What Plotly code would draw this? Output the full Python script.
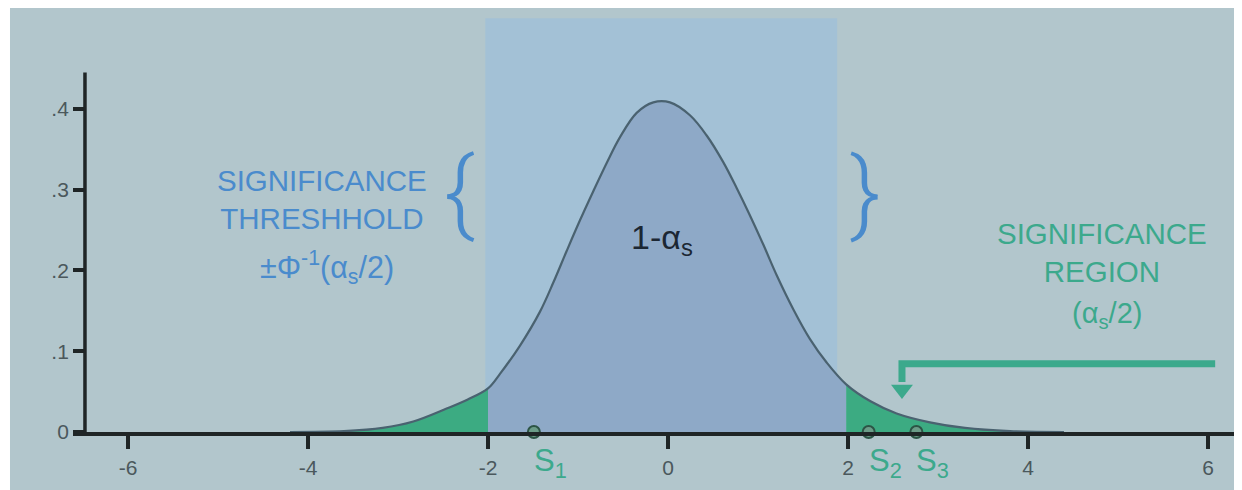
import plotly.graph_objects as go

# ---- data ----
CURVE_X = [-4.2, -3.6, -3.17, -2.83, -2.46, -2.23, -2.0, -1.867, -1.644, -1.422, -1.274, -1.126,
           -0.978, -0.830, -0.681, -0.533, -0.348, -0.163, 0.022, 0.244, 0.430, 0.614, 0.763,
           0.911, 1.059, 1.208, 1.392, 1.578, 1.763, 1.98, 2.25, 2.54, 2.91, 3.3, 3.8, 4.4]
CURVE_Y = [0.0, 0.001, 0.005, 0.013, 0.029, 0.040, 0.054, 0.072, 0.107, 0.149, 0.185, 0.224,
           0.262, 0.298, 0.333, 0.365, 0.395, 0.408, 0.408, 0.392, 0.367, 0.334, 0.302,
           0.268, 0.232, 0.194, 0.152, 0.115, 0.086, 0.059, 0.038, 0.023, 0.012, 0.005, 0.001, 0.0]
LEFT_CUT = -2.0
RIGHT_CUT = 1.98

S_X = [-1.49, 2.23, 2.76]
S_Y = [0.0, 0.0, 0.0]
S_NAMES = ["S<sub>1</sub>", "S<sub>2</sub>", "S<sub>3</sub>"]

X_TICKS = [-6, -4, -2, 0, 2, 4, 6]
X_TICK_TEXT = ["-6", "-4", "-2", "0", "2", "4", "6"]
Y_TICKS = [0, 0.1, 0.2, 0.3, 0.4]
Y_TICK_TEXT = ["0", ".1", ".2", ".3", ".4"]

BAND_X = [-2.03, 1.88]
BAND_TOP = 0.512

ARROW_X = [6.08, 2.6, 2.6]
ARROW_Y = [0.0845, 0.0845, 0.062]
ARROW_HEAD = (2.6, 0.0526)

# ---- styles ----
BG = "#b2c6cc"
BAND = "#a3c1d6"
UNDER = "#8ea9c7"
GREEN = "#3cab82"
CURVE = "#4a6270"
BLUE_TXT = "#4a8bcc"
TEAL = "#3ca98c"
AXIS = "#1f2526"
TICK_TXT = "#4b585c"
FONT = "Liberation Sans"

fig = go.Figure()

left = [(x, y) for x, y in zip(CURVE_X, CURVE_Y) if x <= LEFT_CUT]
mid = [(x, y) for x, y in zip(CURVE_X, CURVE_Y) if LEFT_CUT <= x <= RIGHT_CUT]
right = [(x, y) for x, y in zip(CURVE_X, CURVE_Y) if x >= RIGHT_CUT]

SMOOTH = 1.0
for seg, col in [(left, GREEN), (mid, UNDER), (right, GREEN)]:
    fig.add_trace(go.Scatter(
        x=[p[0] for p in seg], y=[p[1] for p in seg],
        mode="lines", line=dict(width=0, shape="spline", smoothing=SMOOTH),
        fill="tozeroy", fillcolor=col, hoverinfo="skip"))

fig.add_trace(go.Scatter(x=CURVE_X, y=CURVE_Y, mode="lines",
                         line=dict(color=CURVE, width=2.2, shape="spline", smoothing=SMOOTH),
                         hoverinfo="skip"))

# arrow
fig.add_trace(go.Scatter(x=ARROW_X, y=ARROW_Y, mode="lines",
                         line=dict(color=TEAL, width=7), hoverinfo="skip"))
fig.add_trace(go.Scatter(x=[ARROW_HEAD[0]], y=[ARROW_HEAD[1]], mode="markers",
                         marker=dict(symbol="triangle-down", size=19, color=TEAL,
                                     line=dict(width=0)),
                         hoverinfo="skip"))

# sample points
fig.add_trace(go.Scatter(x=S_X, y=S_Y, mode="markers", cliponaxis=False,
                         marker=dict(size=12, color="#6b9c88",
                                     line=dict(color="#2c5445", width=2)),
                         hoverinfo="skip"))

annotations = []
for sx, name in zip(S_X, S_NAMES):
    annotations.append(dict(x=sx, y=-0.073, xref="x", yref="paper", text=name, showarrow=False,
                            xanchor="left", yanchor="middle", xshift=-2,
                            font=dict(family=FONT, size=31, color=TEAL)))

annotations += [
    dict(x=-3.84, y=0.288, text="SIGNIFICANCE<br>THRESHHOLD", showarrow=False,
         xanchor="center", yanchor="middle",
         font=dict(family=FONT, size=29.5, color=BLUE_TXT)),
    dict(x=-3.79, y=0.204, text="±Φ<sup>-1</sup>(α<sub>s</sub>/2)", showarrow=False,
         xanchor="center", yanchor="middle",
         font=dict(family=FONT, size=30.5, color=BLUE_TXT)),
    dict(x=-2.32, y=0.296, text="{", showarrow=False, xanchor="center", yanchor="middle",
         font=dict(family="Roboto", size=93, color=BLUE_TXT, weight=300)),
    dict(x=2.2, y=0.296, text="}", showarrow=False, xanchor="center", yanchor="middle",
         font=dict(family="Roboto", size=93, color=BLUE_TXT, weight=300)),
    dict(x=-0.07, y=0.238, text="1-α<sub>s</sub>", showarrow=False,
         xanchor="center", yanchor="middle",
         font=dict(family=FONT, size=34, color="#1c2733")),
    dict(x=4.82, y=0.222, text="SIGNIFICANCE<br>REGION", showarrow=False,
         xanchor="center", yanchor="middle",
         font=dict(family=FONT, size=29.5, color=TEAL)),
    dict(x=4.88, y=0.145, text="(α<sub>s</sub>/2)", showarrow=False,
         xanchor="center", yanchor="middle",
         font=dict(family=FONT, size=29, color=TEAL)),
]

shapes = [
    # band
    dict(type="rect", xref="x", yref="y", x0=BAND_X[0], x1=BAND_X[1], y0=0, y1=BAND_TOP,
         fillcolor=BAND, line=dict(width=0), layer="below"),
    # y axis line
    dict(type="line", xref="x", yref="y", x0=-6.478, x1=-6.478, y0=0, y1=0.445,
         line=dict(color=AXIS, width=3.5), layer="above"),
    # thin extra white photo border on the left
    dict(type="rect", xref="paper", yref="paper", x0=-0.06, x1=-0.0539, y0=-0.2, y1=1.1,
         fillcolor="white", line=dict(width=0), layer="below"),
]

# page body has an 8px margin; the figure is sized to fill the rest of the window
fig.update_layout(
    width=1234, height=482,
    margin=dict(l=65, r=0, t=0, b=58),
    paper_bgcolor=BG, plot_bgcolor=BG,
    showlegend=False,
    annotations=annotations,
    shapes=shapes,
    xaxis=dict(range=[-6.611, 6.378], showgrid=False, zeroline=False,
               showline=True, linecolor=AXIS, linewidth=3.5,
               tickmode="array", tickvals=X_TICKS, ticktext=X_TICK_TEXT,
               ticks="outside", ticklen=13, tickwidth=3.5, tickcolor=AXIS,
               ticklabelstandoff=1,
               tickfont=dict(family=FONT, size=21, color=TICK_TXT)),
    yaxis=dict(range=[0, 0.5248], showgrid=False, zeroline=False, showline=False,
               anchor="free", position=0.0103,
               tickmode="array", tickvals=Y_TICKS, ticktext=Y_TICK_TEXT,
               ticks="outside", ticklen=12, tickwidth=3.5, tickcolor=AXIS,
               tickfont=dict(family=FONT, size=21, color=TICK_TXT)),
    hovermode=False,
)

fig.write_html("out.html")
